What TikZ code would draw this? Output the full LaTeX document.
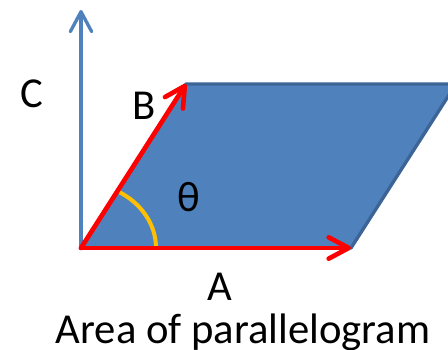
\documentclass[tikz,border=0pt]{standalone}
\usepackage{fontspec}
\setmainfont{Carlito}
\usetikzlibrary{arrows.meta,calc}
\definecolor{shapeblue}{HTML}{4F81BD}
\definecolor{edgeblue}{HTML}{3D6496}
\definecolor{arcorange}{HTML}{FFC000}
\begin{document}
\begin{tikzpicture}[
    x=0.75pt, y=0.75pt,
    myvec/.style={red, line width=3.5pt, line cap=round,
        -{Straight Barb[length=15pt, width=16pt, round]}},
    myaxis/.style={shapeblue, line width=2.5pt,
        -{Straight Barb[length=15pt, width=16pt, round]}},
    mylabel/.style={font=\fontsize{32pt}{38pt}\selectfont, anchor=base, inner sep=0pt}
]
    \clip (0,0) rectangle (448,349);

    % Corners
    \coordinate (O) at (81,101);
    \coordinate (A) at (351,101);
    \coordinate (B) at (186,265);
    \coordinate (D) at (456,265);
    \coordinate (C) at (81,339);

    % Parallelogram
    \filldraw[fill=shapeblue, draw=edgeblue, line width=2.5pt, line join=round]
        (O) -- (A) -- (D) -- (B) -- cycle;

    % Normal vector
    \draw[myaxis] (O) -- (C);

    % Angle
    \draw[arcorange, line width=3pt]
        ($(O)+(75,0)$) arc[start angle=0, end angle=60, x radius=75, y radius=65];

    % Vectors
    \draw[myvec] (O) -- (A);
    \draw[myvec] (O) -- (B);

    % Labels
    \node[mylabel] (labC) at (32,241) {C};
    \node[mylabel] (labB) at (144,229) {B};
    \node[mylabel] (labT) at (189,137) {θ};
    \node[mylabel] (labA) at (220,49) {A};
    \node[mylabel] (title) at (243,6) {Area of parallelogram};
\end{tikzpicture}
\end{document}
